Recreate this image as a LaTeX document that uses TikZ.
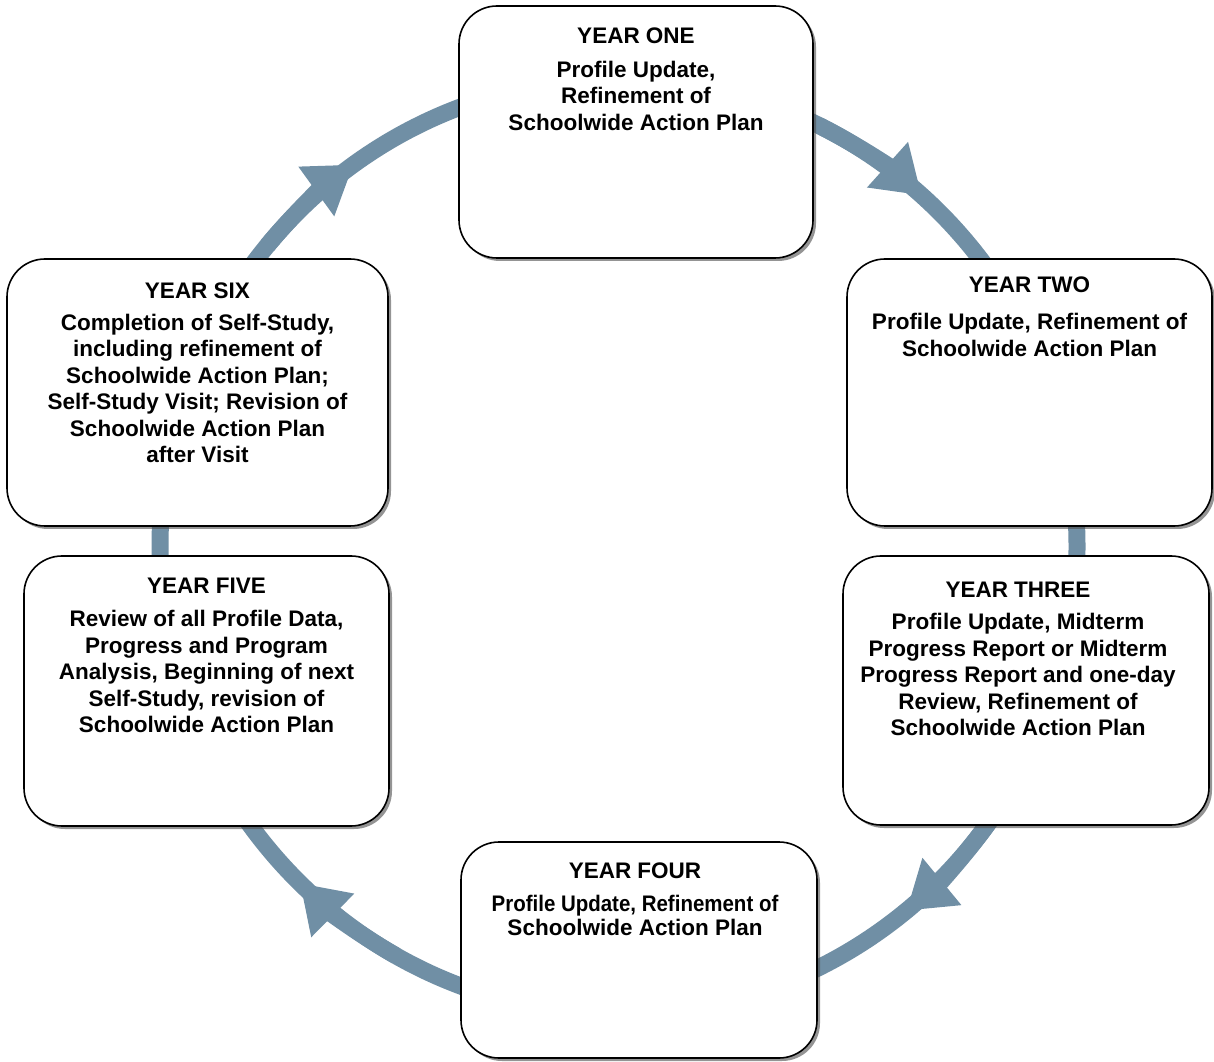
\documentclass[tikz,border=0pt]{standalone}
\usepackage{fontspec}
\setmainfont{Liberation Sans}
\newfontfamily\narrowsans[FakeStretch=0.91]{Liberation Sans}
\usetikzlibrary{positioning,calc,arrows.meta,shadows}
\definecolor{ringblue}{RGB}{112,143,165}

\begin{document}
\begin{tikzpicture}[x=1pt,y=1pt,font=\fontsize{22.5}{26.5}\selectfont\bfseries,
          yb/.style={draw,line width=1.6pt,fill=white,rounded corners=38pt,
            drop shadow={shadow xshift=3pt,shadow yshift=-3pt,opacity=.6,fill=black!70}},
          tx/.style={align=center,inner sep=0pt},
          ring/.style={draw=ringblue,line width=17pt},
          ringarrow/.style={ring,-{Triangle[width=58pt,length=46pt]}}]
        \useasboundingbox (0,0) rectangle (1214,1061);
        % the cycle behind the boxes
        \coordinate (c) at (618.5,514.5);
        \draw[ring] (c) ellipse [x radius=458.5,y radius=468];
        \draw[ringarrow] ($(c)+(64:458.5 and 468)$) arc[start angle=64,end angle=48.6,x radius=458.5,y radius=468];
        \draw[ringarrow] ($(c)+(-36:458.5 and 468)$) arc[start angle=-36,end angle=-51.1,x radius=458.5,y radius=468];
        \draw[ringarrow] ($(c)+(241:458.5 and 468)$) arc[start angle=241,end angle=226,x radius=458.5,y radius=468];
        \draw[ringarrow] ($(c)+(140:458.5 and 468)$) arc[start angle=140,end angle=125.3,x radius=458.5,y radius=468];
        % the six years
        \node[yb,minimum width=354pt,minimum height=252pt] (y1) at (636,929) {};
        \node[yb,minimum width=365pt,minimum height=267pt] (y2) at (1029.5,668.5) {};
        \node[yb,minimum width=366pt,minimum height=269pt] (y3) at (1026,370.5) {};
        \node[yb,minimum width=356pt,minimum height=216pt] (y4) at (639,111) {};
        \node[yb,minimum width=365pt,minimum height=270pt] (y5) at (206.5,370) {};
        \node[yb,minimum width=381pt,minimum height=267pt] (y6) at (197.5,668.5) {};
        \node[tx,below=22pt of y1.north] (t1) {YEAR ONE\\[7.5pt]Profile Update,\\Refinement of\\Schoolwide Action Plan};
        \node[tx,below=18pt of y2.north] (t2) {YEAR TWO\\[11pt]Profile Update, Refinement of\\Schoolwide Action Plan};
        \node[tx,below=27pt of y3.north,xshift=-8pt] (t3) {YEAR THREE\\[5.5pt]Profile Update, Midterm\\Progress Report or Midterm\\Progress Report and one-day\\Review, Refinement of\\Schoolwide Action Plan};
        \node[tx,below=21pt of y4.north,xshift=-4pt] (t4) {YEAR FOUR\\[7pt]\narrowsans Profile Update, Refinement of\\[-2.5pt]Schoolwide Action Plan};
        \node[tx,below=23pt of y5.north] (t5) {YEAR FIVE\\[6.5pt]Review of all Profile Data,\\Progress and Program\\Analysis, Beginning of next\\Self-Study, revision of\\Schoolwide Action Plan};
        \node[tx,below=24pt of y6.north] (t6) {YEAR SIX\\[5.5pt]Completion of Self-Study,\\including refinement of\\Schoolwide Action Plan;\\Self-Study Visit; Revision of\\Schoolwide Action Plan\\after Visit};
      \end{tikzpicture}
\end{document}
